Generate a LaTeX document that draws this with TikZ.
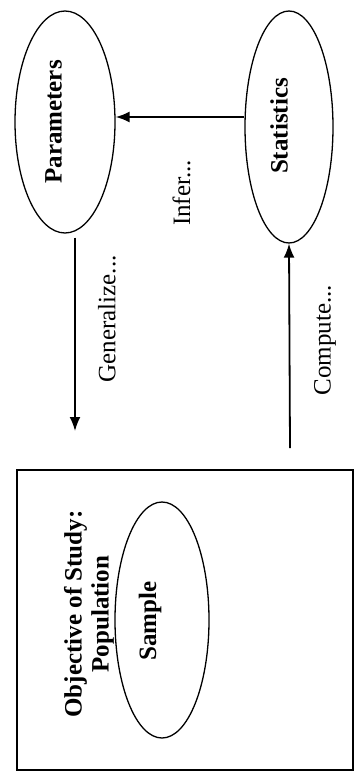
\documentclass[tikz,border=0pt]{standalone}
\usepackage{fontspec}
\setmainfont{Liberation Serif}
\usetikzlibrary{shapes.geometric,arrows.meta}
\begin{document}
\begin{tikzpicture}[x=1pt,y=-1pt,
  oval/.style={draw,ellipse,line width=1.3pt,inner sep=0pt},
  lbl/.style={rotate=90,inner sep=0pt,font=\fontsize{25}{27}\selectfont},
  blbl/.style={lbl,font=\fontsize{25}{27}\selectfont\bfseries},
  arr/.style={line width=1.8pt,-{Latex[length=14pt,width=11pt]}}]
\useasboundingbox (0,0) rectangle (358,776);
% ellipses
\node[oval,minimum width=100pt,minimum height=222pt] (param) at (65,122) {};
\node[oval,minimum width=88pt,minimum height=232pt] (stat) at (289,127) {};
\node[draw,line width=1.4pt,minimum width=336pt,minimum height=300pt,inner sep=0pt] (box) at (185,620) {};
\node[oval,minimum width=94pt,minimum height=236pt] (sample) at (162,620) {};
% texts
\node[blbl] (paramtxt) at (53.5,122) {Parameters};
\node[blbl] (stattxt) at (279,126) {Statistics};
\node[lbl] (infer) at (181.5,193) {Infer...};
\node[lbl] (gen) at (107,319) {Generalize...};
\node[lbl] (comp) at (325,340) {Compute...};
\node[blbl,align=center] (obj) at (89,614) {Objective of Study:\\Population};
\node[blbl] (sampletxt) at (150,621) {Sample};
% connectors
\coordinate (inferlevel) at (0,117);
\draw[arr] (stat.west |- inferlevel) -- (param.east |- inferlevel);
\coordinate (genend) at (75,431);
\draw[arr] (genend |- param.south) ++(0,4) -- (genend);
\coordinate (compstart) at (290,448);
\draw[arr] (compstart) -- (stat.south);
\end{tikzpicture}
\end{document}
